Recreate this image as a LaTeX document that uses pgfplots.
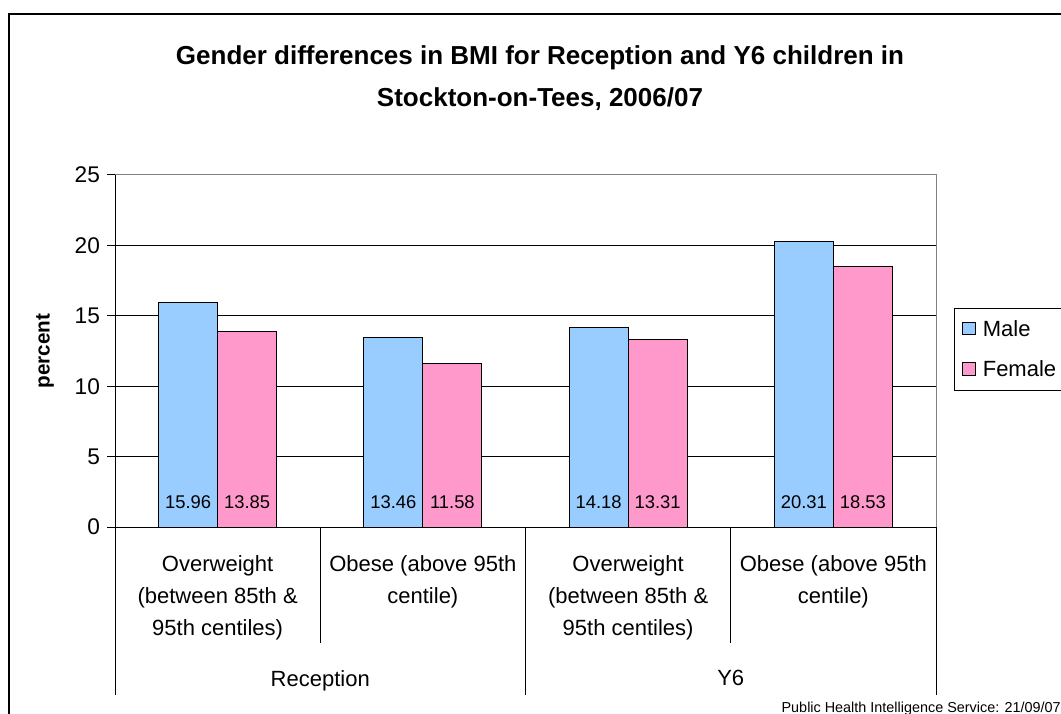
\documentclass[border=0pt]{standalone}
\usepackage{fontspec}
\setmainfont{Liberation Sans}
\usepackage{pgfplots}
\pgfplotsset{compat=1.18}
\definecolor{male}{HTML}{99CCFF}
\definecolor{female}{HTML}{FF99CC}
\definecolor{bordergray}{HTML}{808080}

\begin{document}
\begin{tikzpicture}[x=0.75pt,y=0.75pt,
  catlab/.style={anchor=north, inner sep=0pt, align=center, font=\fontsize{16.5}{24}\selectfont}]
\useasboundingbox (0,0) rectangle (1061,714);
\coordinate (axisorigin) at (115,187);
% outer chart frame (right and bottom sides fall outside the picture)
\draw[line width=1.1pt] (9,-10) -- (9,700) -- (1080,700);
\node[font=\bfseries\fontsize{19.5}{31.5}\selectfont, align=center] at (540,636)
  {Gender differences in BMI for Reception and Y6 children in\\Stockton-on-Tees, 2006/07};
\node[rotate=90, font=\bfseries\fontsize{15.5}{18}\selectfont] at (45,363) {percent};
\node[anchor=base east, font=\fontsize{10.8}{12}\selectfont, inner sep=0pt] at (1061,1)
  {Public Health Intelligence Service: 21/09/07};

\begin{axis}[
  at={(axisorigin)}, anchor=south west, scale only axis,
  width=615.75pt, height=264pt,
  ybar=0pt, bar width=44.25pt,
  xmin=0, xmax=4, ymin=0, ymax=25,
  xtick=\empty, ytick={0,5,...,25},
  axis x line*=bottom, axis y line*=left,
  axis line style={black, line width=0.75pt},
  tick align=outside, major tick length=6pt,
  ytick style={black, line width=0.75pt},
  ymajorgrids, grid style={black, line width=0.75pt},
  /pgf/number format/assume math mode=true,
  yticklabel style={font=\fontsize{17}{20}\selectfont, xshift=-1.8pt},
  clip=false,
  visualization depends on={y \as \rawy},
  nodes near coords={\pgfmathprintnumber[fixed,fixed zerofill,precision=2,assume math mode=true]{\pgfplotspointmeta}},
  every node near coord/.append style={font=\fontsize{13.8}{16}\selectfont, anchor=center,
    shift={(axis direction cs:0,-\rawy)}, yshift=18.75pt},
  legend image code/.code={\draw[#1, line width=0.75pt] (0pt,-4pt) rectangle (9.5pt,5.5pt);},
  legend cell align=left,
  legend style={at={(rel axis cs:1.0219,0.622)}, anchor=north west, draw=black,
    line width=0.75pt, font=\fontsize{16.5}{20}\selectfont,
    inner xsep=6pt, inner ysep=7pt, row sep=12.75pt,
    /tikz/every odd column/.append style={column sep=3pt}},
]
\addplot[draw=black, line width=0.75pt, fill=male] coordinates {(0.5,15.96) (1.5,13.46) (2.5,14.18) (3.5,20.31)};
\addplot[draw=black, line width=0.75pt, fill=female] coordinates {(0.5,13.85) (1.5,11.58) (2.5,13.31) (3.5,18.53)};
\legend{Male,Female}
% plot-area border, top and right
\draw[bordergray, line width=0.75pt] (rel axis cs:0,1) -- (rel axis cs:1,1) -- (rel axis cs:1,0);
% category separators
\draw[black, line width=0.75pt] (axis cs:0,0) -- ++(0,-126pt);
\draw[black, line width=0.75pt] (axis cs:2,0) -- ++(0,-126pt);
\draw[black, line width=0.75pt] (axis cs:4,0) -- ++(0,-126pt);
\draw[black, line width=0.75pt] (axis cs:1,0) -- ++(0,-87pt);
\draw[black, line width=0.75pt] (axis cs:3,0) -- ++(0,-87pt);
% category labels
\node[catlab] at (axis cs:0.5,0) [yshift=-21pt] {Overweight\\(between 85th \&\\95th centiles)};
\node[catlab] at (axis cs:1.5,0) [yshift=-21pt] {Obese (above 95th\\centile)};
\node[catlab] at (axis cs:2.5,0) [yshift=-21pt] {Overweight\\(between 85th \&\\95th centiles)};
\node[catlab] at (axis cs:3.5,0) [yshift=-21pt] {Obese (above 95th\\centile)};
\node[catlab] at (axis cs:1,0) [yshift=-107.25pt] {Reception};
\node[catlab] at (axis cs:3,0) [yshift=-107.25pt] {Y6};
\end{axis}
\end{tikzpicture}
\end{document}
